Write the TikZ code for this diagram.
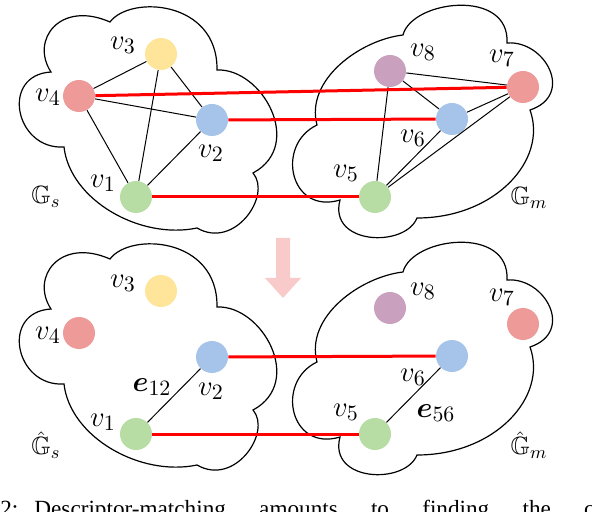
\documentclass[tikz,border=0pt]{standalone}
\usepackage{amsmath, amssymb}
\usepackage{fontspec}
\setmainfont{Liberation Serif}
\usepackage{tikz}
\usetikzlibrary{calc}

\definecolor{vgreen}{HTML}{B7DDA5}
\definecolor{vblue}{HTML}{A6C3E9}
\definecolor{vyellow}{HTML}{FFE599}
\definecolor{vred}{HTML}{EE9A99}
\definecolor{vpurple}{HTML}{C9A1BF}
\definecolor{arrowpink}{HTML}{F9CACA}

\tikzset{
	vertex/.style = {circle, minimum size=16pt, inner sep=0pt},
	edge/.style = {line width=0.5pt},
	match/.style = {red, line width=1.5pt},
	cloudline/.style = {line width=0.6pt},
	vlabel/.style = {font=\fontsize{15}{18}\selectfont, inner sep=0pt},
	glabel/.style = {font=\fontsize{12.5}{14}\selectfont, inner sep=0pt},
	cloudS/.pic = {
		\draw [cloudline] (110,22) .. controls (130,-5) and (218,0) .. (217,70)
			.. controls (262,68) and (305,145) .. (253,173)
			.. controls (272,195) and (235,250) .. (197,228)
			.. controls (140,240) and (70,200) .. (64,147)
			.. controls (15,150) and (0,75) .. (51,72)
			.. controls (30,40) and (60,0) .. (110,22) -- cycle;
	},
	cloudM/.pic = {
		\draw [cloudline] (403,35) .. controls (412,0) and (510,-12) .. (507,43)
			.. controls (545,40) and (575,95) .. (530,110)
			.. controls (548,160) and (495,218) .. (417,218)
			.. controls (405,248) and (328,245) .. (340,200)
			.. controls (290,215) and (275,145) .. (317,125)
			.. controls (305,80) and (360,40) .. (403,35) -- cycle;
	}
}

\begin{document}
\begin{tikzpicture}[x=0.5pt, y=-0.5pt]
	\useasboundingbox (0,0) rectangle (592,512);
	
	%vertical offset of the matched graphs
	\def\down{237}
	
	%clouds
	\pic at (0,0) {cloudS};
	\pic at (0,0) {cloudM};
	\pic at (0,\down) {cloudS};
	\pic at (0,\down) {cloudM};
	
	%source graph
	\node [vertex, fill=vgreen] (v1) at (136,197) {};
	\node [vertex, fill=vblue] (v2) at (212,120) {};
	\node [vertex, fill=vyellow] (v3) at (161,54) {};
	\node [vertex, fill=vred] (v4) at (79,96) {};
	
	\node [vlabel] (l1) at (103,183) {$v_1$};
	\node [vlabel] (l2) at (211,153) {$v_2$};
	\node [vlabel] (l3) at (123,45) {$v_3$};
	\node [vlabel] (l4) at (48,97) {$v_4$};
	\node [glabel] (Gs) at (46,197) {$\mathbb{G}_s$};
	
	\draw [edge] (v3) -- (v4);
	\draw [edge] (v3) -- (v2);
	\draw [edge] (v3) -- (v1);
	\draw [edge] (v4) -- (v2);
	\draw [edge] (v4) -- (v1);
	\draw [edge] (v1) -- (v2);
	
	%model graph
	\node [vertex, fill=vgreen] (v5) at (375,197) {};
	\node [vertex, fill=vblue] (v6) at (452,119) {};
	\node [vertex, fill=vred] (v7) at (523,87) {};
	\node [vertex, fill=vpurple] (v8) at (390,71) {};
	
	\node [vlabel] (l5) at (346,173) {$v_5$};
	\node [vlabel] (l6) at (413,138) {$v_6$};
	\node [vlabel] (l7) at (502,58) {$v_7$};
	\node [vlabel] (l8) at (423,52) {$v_8$};
	\node [glabel] (Gm) at (529,198) {$\mathbb{G}_m$};
	
	\draw [edge] (v8) -- (v7);
	\draw [edge] (v8) -- (v6);
	\draw [edge] (v8) -- (v5);
	\draw [edge] (v6) -- (v7);
	\draw [edge] (v6) -- (v5);
	\draw [edge] (v5) -- (v7);
	
	%matches
	\draw [match] (v4) -- (v7);
	\draw [match] (v2) -- (v6);
	\draw [match] (v1) -- (v5);
	
	%arrow
	\fill [arrowpink] (276,238) -- (290,238) -- (290,278) -- (301,278) -- (283,298) -- (265,278) -- (276,278) -- cycle;
	
	%matched graphs
	\begin{scope}[shift={(0,\down)}]
		\node [vertex, fill=vgreen] (hv1) at (136,197) {};
		\node [vertex, fill=vblue] (hv2) at (212,120) {};
		\node [vertex, fill=vyellow] (hv3) at (161,54) {};
		\node [vertex, fill=vred] (hv4) at (79,96) {};
		\node [vertex, fill=vgreen] (hv5) at (375,197) {};
		\node [vertex, fill=vblue] (hv6) at (452,119) {};
		\node [vertex, fill=vred] (hv7) at (523,87) {};
		\node [vertex, fill=vpurple] (hv8) at (390,71) {};
		
		\node [vlabel] (hl1) at (103,185) {$v_1$};
		\node [vlabel] (hl2) at (211,154) {$v_2$};
		\node [vlabel] (hl3) at (123,46) {$v_3$};
		\node [vlabel] (hl4) at (48,98) {$v_4$};
		\node [vlabel] (hl5) at (346,175) {$v_5$};
		\node [vlabel] (hl6) at (413,140) {$v_6$};
		\node [vlabel] (hl7) at (502,60) {$v_7$};
		\node [vlabel] (hl8) at (423,54) {$v_8$};
		\node [vlabel] (e12) at (152,150) {$\boldsymbol{e}_{12}$};
		\node [vlabel] (e56) at (436,176) {$\boldsymbol{e}_{56}$};
		\node [glabel] (hGs) at (46,208) {$\hat{\mathbb{G}}_s$};
		\node [glabel] (hGm) at (529,208) {$\hat{\mathbb{G}}_m$};
		
		\draw [edge] (hv1) -- (hv2);
		\draw [edge] (hv5) -- (hv6);
		
		\draw [match] (hv2) -- (hv6);
		\draw [match] (hv1) -- (hv5);
	\end{scope}
	
	%caption
	\node [anchor=base west, inner sep=0pt, font=\fontsize{11.6}{13}\selectfont] (caption) at (0,516) {\makebox[297pt][l]{2:\hspace{8pt}Descriptor-matching\hfill amounts\hfill to\hfill finding\hfill the\hfill c}};
\end{tikzpicture}
\end{document}
